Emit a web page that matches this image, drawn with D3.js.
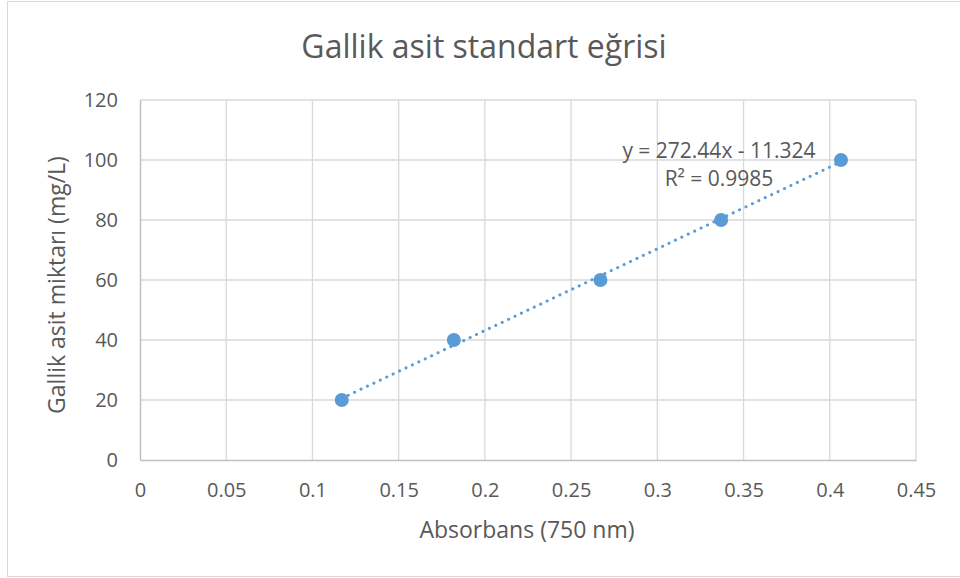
<!DOCTYPE html>
<html>
<head>
<meta charset="utf-8">
<script src="https://cdn.jsdelivr.net/npm/d3@7"></script>
<style>
  body { margin: 0; background: #fff; }
  text { font-family: "Open Sans", Lato, sans-serif; fill: #595959; }
</style>
</head>
<body>
<svg id="chart"></svg>
<script>
const width = 960;
const height = 578;

// Data
const absorbance = [0.117, 0.182, 0.267, 0.337, 0.4065];
const concentration = [20, 40, 60, 80, 100];
const xTicks = [0, 0.05, 0.1, 0.15, 0.2, 0.25, 0.3, 0.35, 0.4, 0.45];
const yTicks = [0, 20, 40, 60, 80, 100, 120];
const slope = 272.44;
const intercept = -11.324;
const equationLines = ["y = 272.44x - 11.324", "R² = 0.9985"];

const margin = { left: 140, right: 44, top: 100, bottom: 118 };

const svg = d3.select("#chart")
    .attr("width", width)
    .attr("height", height);

// chart area border
svg.append("rect")
    .attr("x", 7.5).attr("y", 1.5)
    .attr("width", 960).attr("height", 575)
    .attr("fill", "#fff")
    .attr("stroke", "#d9d9d9");

const x = d3.scaleLinear().domain([0, 0.45]).range([margin.left, width - margin.right]);
const y = d3.scaleLinear().domain([0, 120]).range([height - margin.bottom, margin.top]);

// gridlines
svg.append("g")
    .selectAll("line")
    .data(xTicks.slice(1))
    .join("line")
    .attr("x1", d => x(d)).attr("x2", d => x(d))
    .attr("y1", y(0)).attr("y2", y(120))
    .attr("stroke", "#d9d9d9").attr("stroke-width", 1.3);

svg.append("g")
    .selectAll("line")
    .data(yTicks.slice(1))
    .join("line")
    .attr("x1", x(0)).attr("x2", x(0.45))
    .attr("y1", d => y(d)).attr("y2", d => y(d))
    .attr("stroke", "#d9d9d9").attr("stroke-width", 1.3);

// axes
const xAxis = svg.append("g")
    .attr("transform", `translate(0,${y(0)})`)
    .call(d3.axisBottom(x).tickValues(xTicks).tickSize(0).tickPadding(23).tickFormat(d => String(d)));
const yAxis = svg.append("g")
    .attr("transform", `translate(${x(0)},0)`)
    .call(d3.axisLeft(y).tickValues(yTicks).tickSize(0).tickPadding(22));
[xAxis, yAxis].forEach(g => {
    g.select(".domain").attr("stroke", "#bfbfbf").attr("stroke-width", 1.5);
    g.selectAll("text").style("font-size", "20px").attr("fill", "#595959")
        .style("font-family", "'Open Sans', Lato, sans-serif");
});

// trendline (dotted), spanning the data range
const x0 = d3.min(absorbance), x1 = d3.max(absorbance);
svg.append("line")
    .attr("x1", x(x0)).attr("y1", y(slope * x0 + intercept))
    .attr("x2", x(x1)).attr("y2", y(slope * x1 + intercept))
    .attr("stroke", "#5b9bd5")
    .attr("stroke-width", 3)
    .attr("stroke-linecap", "round")
    .attr("stroke-dasharray", "0.1,7");

// points
svg.append("g")
    .selectAll("circle")
    .data(absorbance.map((a, i) => [a, concentration[i]]))
    .join("circle")
    .attr("cx", d => x(d[0]))
    .attr("cy", d => y(d[1]))
    .attr("r", 7)
    .attr("fill", "#5b9bd5");

// equation label
svg.append("g")
    .selectAll("text")
    .data(equationLines)
    .join("text")
    .attr("x", 719)
    .attr("y", (d, i) => 158 + i * 28)
    .attr("text-anchor", "middle")
    .style("font-size", "21px")
    .text(d => d);

// title
svg.append("text")
    .attr("x", 484).attr("y", 58)
    .attr("text-anchor", "middle")
    .style("font-size", "32px")
    .text("Gallik asit standart eğrisi");

// axis titles
svg.append("text")
    .attr("x", 527).attr("y", 538)
    .attr("text-anchor", "middle")
    .style("font-size", "23px")
    .text("Absorbans (750 nm)");

svg.append("text")
    .attr("transform", `translate(65,285) rotate(-90)`)
    .attr("text-anchor", "middle")
    .style("font-size", "23px")
    .text("Gallik asit miktarı (mg/L)");
</script>
</body>
</html>
